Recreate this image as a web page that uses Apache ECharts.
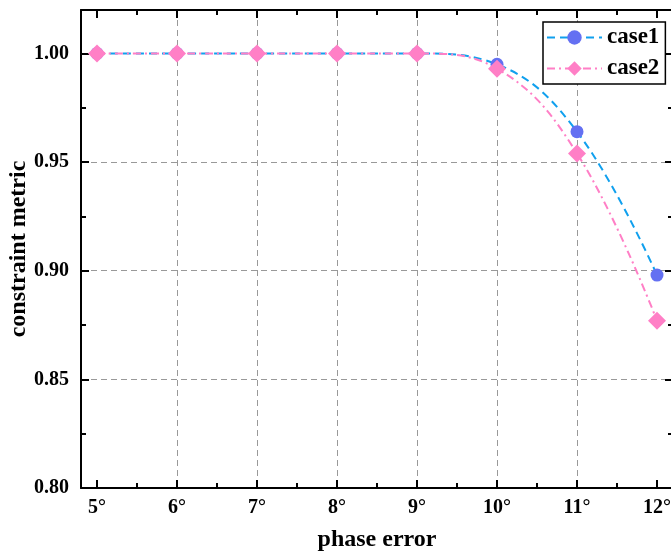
<!DOCTYPE html>
<html>
<head>
<meta charset="utf-8">
<script src="https://cdn.jsdelivr.net/npm/echarts@6/dist/echarts.min.js"></script>
<style>
  html, body { margin: 0; padding: 0; background: #fff; }
  #chart { width: 671px; height: 557px; }
</style>
</head>
<body>
<div id="chart"></div>
<script>
  // phase error (degrees)
  const phaseError = [5, 6, 7, 8, 9, 10, 11, 12];
  const case1 = [1.000, 1.000, 1.000, 1.000, 1.000, 0.995, 0.964, 0.898];
  const case2 = [1.000, 1.000, 1.000, 1.000, 1.000, 0.993, 0.954, 0.877];

  const xMajor = [5, 6, 7, 8, 9, 10, 11, 12];
  const xMinor = [5.5, 6.5, 7.5, 8.5, 9.5, 10.5, 11.5];
  const yMajor = [0.80, 0.85, 0.90, 0.95, 1.00];
  const yMinor = [0.825, 0.875, 0.925, 0.975];

  const font = 'Liberation Serif';
  const xRange = { min: 4.8, max: 12.2 };
  const yRange = { min: 0.80, max: 1.02 };

  function frameAxis(pos, range, ticks, len, showLine) {
    return {
      type: 'value',
      position: pos,
      min: range.min,
      max: range.max,
      axisLine: { show: showLine, onZero: false, lineStyle: { color: '#000', width: 2 } },
      axisTick: { show: true, inside: true, length: len, customValues: ticks, lineStyle: { color: '#000', width: 2 } },
      axisLabel: { show: false },
      splitLine: { show: false }
    };
  }

  let mychart = echarts.init(document.getElementById('chart'));

  let xMain = frameAxis('bottom', xRange, xMajor, 8, true);
  xMain.axisLabel = {
    show: true, customValues: xMajor, margin: 10,
    color: '#000', fontFamily: font, fontWeight: 'bold', fontSize: 20,
    formatter: function (v) { return v + '°'; }
  };
  xMain.splitLine = { show: true, showMinLine: false, showMaxLine: false, lineStyle: { color: '#999', type: [6, 4], width: 1 } };
  xMain.name = 'phase error';
  xMain.nameLocation = 'middle';
  xMain.nameGap = 40;
  xMain.nameMoveOverlap = false;
  xMain.nameTextStyle = { color: '#000', fontFamily: font, fontWeight: 'bold', fontSize: 24 };

  let yMain = frameAxis('left', yRange, yMajor, 8, true);
  yMain.axisLabel = {
    show: true, customValues: yMajor, margin: 12,
    color: '#000', fontFamily: font, fontWeight: 'bold', fontSize: 20,
    formatter: function (v) { return v.toFixed(2); }
  };
  yMain.splitLine = { show: true, showMinLine: false, showMaxLine: false, lineStyle: { color: '#999', type: [6, 4], width: 1 } };
  yMain.name = 'constraint metric';
  yMain.nameLocation = 'middle';
  yMain.nameGap = 50;
  yMain.nameMoveOverlap = false;
  yMain.nameTextStyle = { color: '#000', fontFamily: font, fontWeight: 'bold', fontSize: 24 };

  let option = {
    animation: false,
    backgroundColor: '#fff',
    grid: { left: 81, top: 10, width: 592, height: 478, containLabel: false, outerBoundsMode: 'none' },
    legend: {
      orient: 'vertical',
      left: 543,
      top: 22,
      padding: [4, 6, 4, 3],
      itemGap: 8,
      itemWidth: 55,
      itemHeight: 18,
      backgroundColor: '#fff',
      borderColor: '#000',
      borderWidth: 1.5,
      borderRadius: 0,
      textStyle: { color: '#000', fontFamily: font, fontWeight: 'bold', fontSize: 23 },
      data: ['case1', 'case2']
    },
    xAxis: [
      xMain,
      frameAxis('bottom', xRange, xMinor, 5, false),
      frameAxis('top', xRange, xMajor, 8, true),
      frameAxis('top', xRange, xMinor, 5, false)
    ],
    yAxis: [
      yMain,
      frameAxis('left', yRange, yMinor, 5, false),
      frameAxis('right', yRange, yMajor, 8, true),
      frameAxis('right', yRange, yMinor, 5, false)
    ],
    series: [
      {
        name: 'case1',
        type: 'line',
        smooth: 0.4,
        data: phaseError.map(function (x, i) { return [x, case1[i]]; }),
        symbol: 'circle',
        symbolSize: 13,
        itemStyle: { color: '#6470f2' },
        lineStyle: { color: '#10a0ee', width: 2, type: [8, 5] }
      },
      {
        name: 'case2',
        type: 'line',
        smooth: 0.4,
        data: phaseError.map(function (x, i) { return [x, case2[i]]; }),
        symbol: 'diamond',
        symbolSize: 18,
        itemStyle: { color: '#ff7fc6' },
        lineStyle: { color: '#ff7fc6', width: 2, type: [8, 4, 2, 4] }
      }
    ]
  };
  mychart.setOption(option);
</script>
</body>
</html>
